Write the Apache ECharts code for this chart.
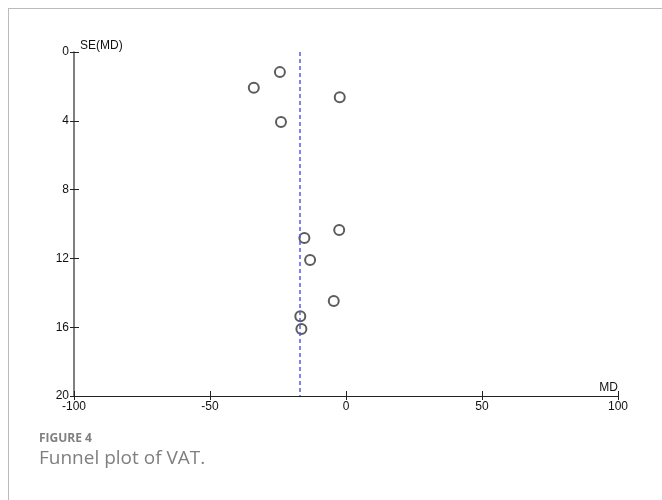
<!DOCTYPE html>
<html>
<head>
<meta charset="utf-8">
<script src="https://cdn.jsdelivr.net/npm/echarts@6/dist/echarts.min.js"></script>
<style>html,body{margin:0;padding:0;background:#fff;}#c{width:662px;height:500px;}</style>
</head>
<body>
<div id="c"></div>
<script>
// Data
var mdValues = [-24.3, -33.9, -2.3, -23.9, -2.5, -15.3, -13.2, -4.5, -16.8, -16.4];
var seValues = [1.17, 2.08, 2.63, 4.07, 10.35, 10.81, 12.09, 14.48, 15.37, 16.1];
var pooledMD = -16.9;
var xTicks = [-100, -50, 0, 50, 100];
var yTicks = [0, 4, 8, 12, 16, 20];

var points = mdValues.map(function (v, i) { return [v, seValues[i]]; });

var chart = echarts.init(document.getElementById('c'));
var axisFont = { fontFamily: '"Liberation Sans", Arial, sans-serif', fontSize: 12, color: '#111' };

chart.setOption({
  animation: false,
  grid: { left: 74, right: 44, top: 52, bottom: 104, containLabel: false },
  xAxis: [{
    type: 'value', min: xTicks[0], max: xTicks[xTicks.length - 1], interval: 50, position: 'bottom',
    name: 'MD', nameLocation: 'end', nameGap: 0,
    nameTextStyle: Object.assign({}, axisFont, { align: 'right', verticalAlign: 'bottom', padding: [0, 0, 2, 0] }),
    axisLine: { show: true, onZero: false, lineStyle: { color: '#222', width: 1 } },
    axisTick: { show: true, length: 4, inside: false, lineStyle: { color: '#222' } },
    axisLabel: Object.assign({}, axisFont, { margin: 5 }),
    splitLine: { show: false }
  }, {
    type: 'value', min: xTicks[0], max: xTicks[xTicks.length - 1], interval: 50, position: 'bottom',
    axisLine: { show: false, onZero: false },
    axisTick: { show: true, length: 5, inside: true, lineStyle: { color: '#222' } },
    axisLabel: { show: false },
    splitLine: { show: false }
  }],
  yAxis: [{
    type: 'value', min: yTicks[0], max: yTicks[yTicks.length - 1], interval: 4, inverse: true, position: 'left',
    name: 'SE(MD)', nameLocation: 'start', nameGap: 0,
    nameTextStyle: Object.assign({}, axisFont, { align: 'left', verticalAlign: 'bottom', padding: [0, 0, 0, 6] }),
    axisLine: { show: true, onZero: false, lineStyle: { color: '#555', width: 1.5 } },
    axisTick: { show: true, length: 4, inside: false, lineStyle: { color: '#222' } },
    axisLabel: Object.assign({}, axisFont, { margin: 5 }),
    splitLine: { show: false }
  }, {
    type: 'value', min: yTicks[0], max: yTicks[yTicks.length - 1], interval: 4, inverse: true, position: 'left',
    axisLine: { show: false, onZero: false },
    axisTick: { show: true, length: 5, inside: true, lineStyle: { color: '#222' } },
    axisLabel: { show: false },
    splitLine: { show: false }
  }],
  graphic: [
    { type: 'line', shape: { x1: 8, y1: 8.5, x2: 662, y2: 8.5 }, style: { stroke: '#bbb', lineWidth: 1 } },
    { type: 'line', shape: { x1: 8.5, y1: 8, x2: 8.5, y2: 500 }, style: { stroke: '#bbb', lineWidth: 1 } },
    { type: 'text', left: 39, top: 433, style: { text: 'FIGURE 4', fill: '#7f7f7f', font: 'bold 12px "Open Sans", Lato, sans-serif' } },
    { type: 'text', left: 39, top: 449, style: { text: 'Funnel plot of VAT.', fill: '#7f7f7f', font: '19px "Open Sans", Lato, sans-serif' } }
  ],
  series: [{
    type: 'scatter', xAxisIndex: 0, yAxisIndex: 0,
    data: points,
    symbol: 'emptyCircle', symbolSize: 10,
    itemStyle: { color: '#333', borderColor: '#333', borderWidth: 1 },
    markLine: {
      silent: true, symbol: 'none', label: { show: false },
      lineStyle: { color: '#5b5be6', type: [4, 3], width: 1.5 },
      data: [[{ coord: [pooledMD, 0] }, { coord: [pooledMD, 20] }]]
    }
  }]
});
</script>
</body>
</html>
